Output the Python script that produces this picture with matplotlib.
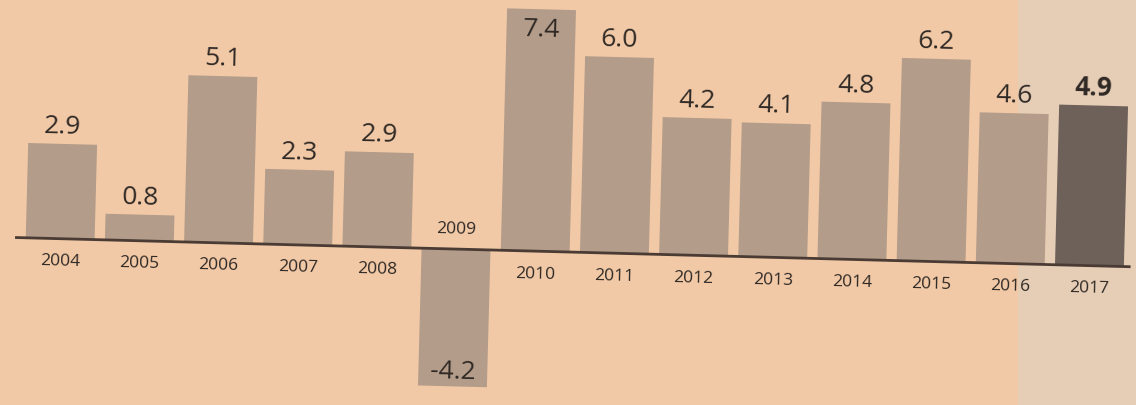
import matplotlib
matplotlib.use("Agg")
import matplotlib.pyplot as plt
from matplotlib.transforms import Affine2D
from matplotlib.patches import Rectangle

# ---- data ----
years = ["2004", "2005", "2006", "2007", "2008", "2009", "2010",
         "2011", "2012", "2013", "2014", "2015", "2016", "2017"]
values = [2.9, 0.8, 5.1, 2.3, 2.9, -4.2, 7.4, 6.0, 4.2, 4.1, 4.8, 6.2, 4.6, 4.9]
labels = ["2.9", "0.8", "5.1", "2.3", "2.9", "-4.2", "7.4", "6.0",
          "4.2", "4.1", "4.8", "6.2", "4.6", "4.9"]
highlight = "2017"

# ---- style ----
BG = "#f2c9a6"
PANEL = "#e6cdb6"
BAR = "#b39c89"
BAR_HL = "#6d6159"
TXT = "#2f2925"
LINE = "#4a3c34"
FONT = ["Open Sans", "DejaVu Sans"]

W, H, DPI = 1136, 405, 100
fig = plt.figure(figsize=(W / DPI, H / DPI), dpi=DPI)
fig.patch.set_facecolor(BG)
fig.add_artist(Rectangle((1018 / W, 0), 1 - 1018 / W, 1, transform=fig.transFigure,
                         facecolor=PANEL, edgecolor="none", zorder=0))

ax = fig.add_axes([0, 0, 1, 1])
ax.set_facecolor("none")
ax.axis("off")

spacing = 79.2      # px per category
scale = 32.7        # px per unit
x0 = 60             # px centre of first bar
base_y = 153        # px baseline (display coords, from bottom)
ax.set_xlim(-x0 / spacing, (W - x0) / spacing)
ax.set_ylim(-base_y / scale, (H - base_y) / scale)

# slight tilt of the photographed page
angle = -1.5
rot = Affine2D().rotate_deg_around(568, base_y, angle)
tr = ax.transData + rot

xs = list(range(len(years)))
colors = [BAR_HL if y == highlight else BAR for y in years]
bars = ax.bar(xs, values, width=0.87, color=colors, zorder=2)
for b in bars:
    b.set_transform(tr)
    b.set_clip_on(False)

ax.plot([-0.57, len(years) - 1 + 0.52], [0, 0], color=LINE, lw=2.0,
        transform=tr, zorder=3, solid_capstyle="butt")

for x, v, lab, yr in zip(xs, values, labels, years):
    bold = yr == highlight
    if v >= 0:
        if v > 7:
            off = -21
        else:
            off = 17
        vy = v
        yoff_year = -23
    else:
        off = 14
        vy = v
        yoff_year = 20
    ax.annotate(lab, (x, vy), xycoords=tr, xytext=(0, off), textcoords="offset pixels",
                ha="center", va="center", fontsize=19, color=TXT, family=FONT,
                fontweight="bold" if bold else "normal", rotation=angle, zorder=4)
    ax.annotate(yr, (x, 0), xycoords=tr, xytext=(0, yoff_year), textcoords="offset pixels",
                ha="center", va="center", fontsize=12.5, color=TXT, family=FONT,
                rotation=angle, zorder=4)

fig.savefig("out.png", dpi=DPI, facecolor=BG)
